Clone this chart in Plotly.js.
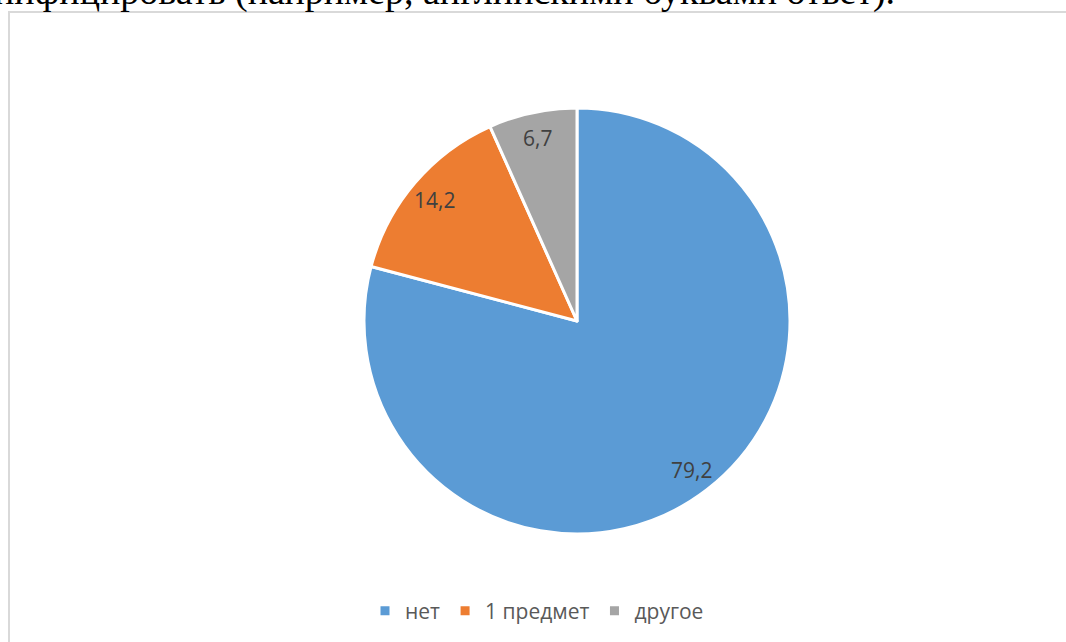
<!DOCTYPE html>
<html>
<head>
<meta charset="utf-8">
<script src="https://cdn.plot.ly/plotly-3.0.1.min.js"></script>
<style>
html,body{margin:0;padding:0;background:#fff;overflow:hidden;width:1066px;height:642px}
#wrap{position:relative;width:1066px;height:642px;overflow:hidden}
#chart{position:absolute;left:0;top:0;width:1066px;height:642px}
#header{position:absolute;left:-6px;top:-28px;white-space:nowrap;font-family:"Liberation Serif","Times New Roman",serif;font-size:38px;line-height:38px;color:#000;z-index:5;pointer-events:none}
</style>
</head>
<body>
<div id="wrap">
<div id="chart"></div>
<div id="header"></div>
</div>
<script>
const categories = ["нет", "1 предмет", "другое"];
const values = [79.2, 14.2, 6.7];
const valueLabels = ["79,2", "14,2", "6,7"];
const colors = ["#5B9BD5", "#ED7D31", "#A5A5A5"];
const headerText = "нифицировать (например, английскими буквами ответ).";

document.getElementById("header").textContent = headerText;

const W = 1066, H = 642;
const cx = 577, cy = 321, r = 213;
const labelRadiusFrac = 0.88;

const trace = {
  type: "pie",
  labels: categories,
  values: values,
  textinfo: "none",
  marker: {colors: colors, line: {color: "#ffffff", width: 3}},
  sort: false,
  direction: "clockwise",
  rotation: 0,
  hoverinfo: "none",
  domain: {x: [(cx - r) / W, (cx + r) / W], y: [(H - cy - r) / H, (H - cy + r) / H]}
};

// data labels placed at each slice's mid-angle (computed from the values)
const total = values.reduce((a, b) => a + b, 0);
let cum = 0;
const labelAnns = values.map((v, i) => {
  const mid = (cum + v / 2) / total * 2 * Math.PI;
  cum += v;
  const rr = r * labelRadiusFrac;
  const px = cx + rr * Math.sin(mid);
  const py = cy - rr * Math.cos(mid);
  return {
    text: valueLabels[i], xref: "paper", yref: "paper",
    x: px / W, y: (H - py) / H, xanchor: "center", yanchor: "middle",
    showarrow: false,
    font: {family: "Open Sans, Liberation Sans, sans-serif", size: 21, color: "#404040"}
  };
});

const layout = {
  width: W, height: H,
  margin: {l: 0, r: 0, t: 0, b: 0},
  paper_bgcolor: "#ffffff",
  showlegend: true,
  legend: {
    orientation: "h", x: 537 / W, xanchor: "center", y: (H - 611) / H, yanchor: "middle",
    font: {family: "Open Sans, Liberation Sans, sans-serif", size: 21, color: "#595959"},
    traceorder: "normal"
  },
  shapes: [{
    type: "rect", xref: "paper", yref: "paper",
    x0: 9 / W, x1: 1.05, y0: -0.05, y1: (H - 12) / H,
    line: {color: "#d9d9d9", width: 2}, fillcolor: "rgba(0,0,0,0)"
  }],
  annotations: labelAnns
};

Plotly.newPlot("chart", [trace], layout, {displayModeBar: false, staticPlot: true});
</script>
</body>
</html>
